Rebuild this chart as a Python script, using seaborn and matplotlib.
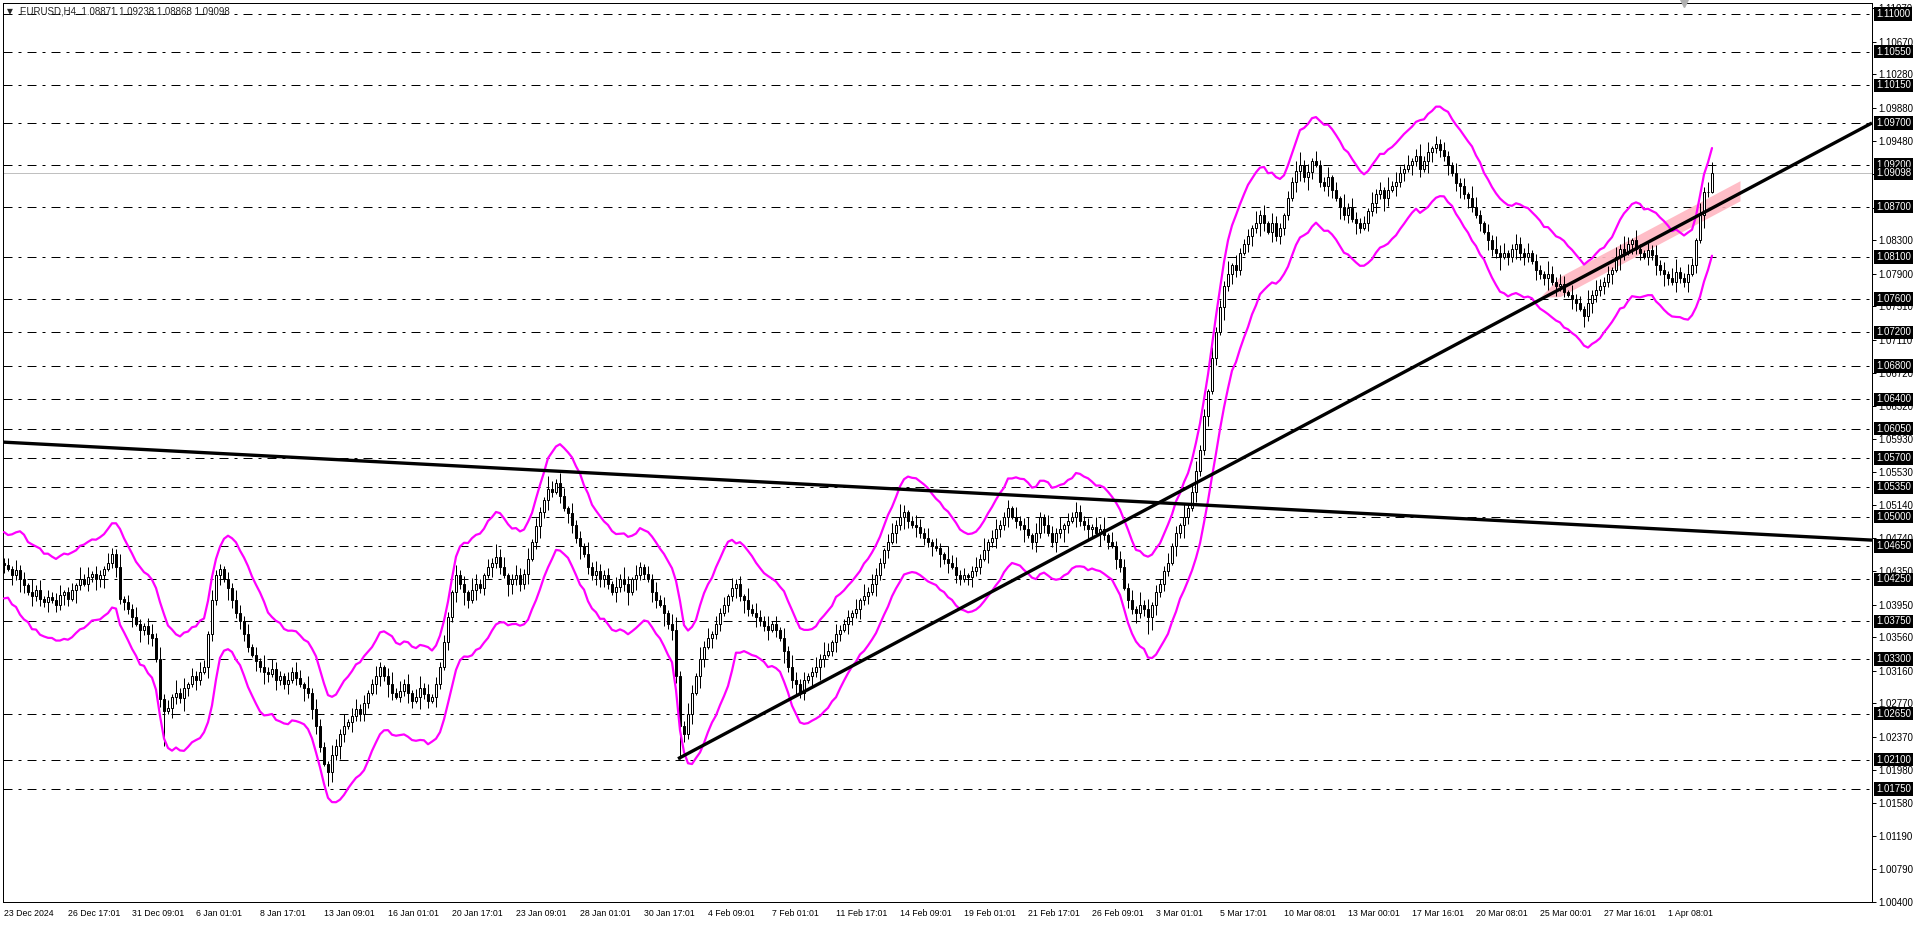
import numpy as np
import pandas as pd
import matplotlib
matplotlib.use("Agg")
import matplotlib.pyplot as plt
import matplotlib.transforms as mtransforms
import seaborn as sns

# H4 closes, in pips above 1.0000
closes = [
    442, 438, 430, 436, 425, 418, 410, 405, 412, 402,
    398, 404, 400, 395, 406, 410, 402, 412, 418, 425,
    420, 428, 432, 425, 430, 438, 445, 455, 440, 402,
    398, 390, 380, 372, 365, 370, 360, 355, 330, 282,
    268, 272, 285, 290, 283, 295, 300, 310, 305, 315,
    320, 360, 400, 430, 438, 425, 415, 400, 385, 375,
    360, 345, 335, 328, 320, 315, 312, 318, 305, 310,
    300, 305, 315, 308, 300, 295, 290, 270, 250, 225,
    205, 195, 215, 226, 240, 250, 255, 262, 270, 265,
    278, 290, 300, 310, 320, 310, 300, 290, 285, 292,
    300, 290, 280, 285, 295, 288, 280, 285, 300, 320,
    350, 380, 410, 430, 420, 410, 400, 412, 420, 415,
    430, 440, 445, 452, 440, 430, 420, 425, 430, 420,
    432, 450, 470, 489, 505, 520, 533, 530, 540, 525,
    510, 504, 490, 474, 465, 455, 440, 430, 435, 425,
    430, 420, 410, 416, 425, 420, 410, 425, 430, 440,
    432, 425, 410, 400, 395, 385, 372, 365, 310, 250,
    240, 265, 290, 310, 330, 345, 355, 360, 372, 385,
    395, 405, 415, 420, 405, 400, 390, 385, 380, 375,
    370, 365, 372, 365, 355, 340, 320, 305, 300, 290,
    305, 310, 315, 320, 330, 335, 340, 350, 360, 365,
    372, 380, 385, 390, 400, 405, 410, 420, 430, 445,
    460, 470, 480, 490, 500, 505, 495, 490, 488, 480,
    475, 470, 465, 462, 455, 450, 445, 440, 430, 425,
    430, 428, 435, 440, 450, 460, 470, 475, 485, 490,
    500, 510, 500, 495, 490, 485, 478, 470, 480, 500,
    490, 480, 470, 480, 485, 490, 495, 500, 505, 495,
    490, 485, 488, 480, 485, 478, 470, 465, 450, 440,
    415, 400, 390, 385, 395, 390, 380, 395, 410, 420,
    435, 445, 465, 480, 490, 500, 510, 530, 555, 580,
    620, 650, 690, 720, 750, 775, 790, 800, 795, 815,
    825, 835, 845, 850, 860, 850, 840, 850, 835, 845,
    860, 880, 900, 913, 920, 905, 912, 925, 920, 900,
    895, 905, 890, 880, 870, 860, 868, 855, 850, 845,
    850, 865, 875, 885, 890, 880, 890, 895, 900, 910,
    915, 920, 925, 930, 915, 925, 935, 940, 945, 938,
    930, 920, 910, 898, 895, 885, 880, 870, 860, 850,
    840, 830, 820, 815, 810, 815, 810, 820, 825, 815,
    810, 815, 805, 795, 790, 785, 790, 780, 775, 778,
    768, 765, 760, 755, 748, 740, 755, 765, 770, 775,
    780, 790, 795, 810, 820, 815, 825, 830, 820, 815,
    810, 818, 812, 800, 795, 790, 785, 780, 792, 785,
    780, 790, 800, 830, 860, 888, 887.1, 909.8,
]
firstOpen = 445

# wick lengths, one digit per bar, 3 pips per unit
upWick = ("2314231524 1323412315 2413214325 1324213425 2315241324 3142513243 2413152432 "
          "1324315243 2143251342 3124213524 2413524132 3214231542 1325341243 2413215324 "
          "3142315243 2314253142 1324231452 2431524132 3142315243 2413142532 3124253142 "
          "2314152432 1342531243 2413215342 3124251342 2314235142 1432513243 2314251423 "
          "3241524132 2413152342 3142325142 2315241432 1324523142 2413152432 3142315243 "
          "2413524132 3214231542 1325341243 2413215324 3142315243 2314253142 1324231452 "
          "2431524132")
dnWick = ("3142531423 2413243152 1324351242 3241524313 2143253142 1432415323 3214253142 "
          "2413152432 1342531423 3214425312 2431523142 1324253142 3142315423 2413524213 "
          "1432513243 3214235142 2143152432 3241531423 1324253142 2413152342 3142531243 "
          "1432423152 2314253142 3241524132 1342315243 2413251342 3124253142 2431523142 "
          "1324231542 3214253142 2413152432 1342531423 3214425312 2431523142 1324253142 "
          "3142315423 2413524213 1432513243 3214235142 2143152432 3241531423 1324253142 "
          "2413152342")
highFix = {27: 462, 54: 444, 138: 545, 251: 520, 358: 955, 427: 923.8}
lowFix = {40: 226, 81: 178, 169: 211, 286: 360, 395: 727, 427: 886.8}

dateLabels = ["23 Dec 2024", "26 Dec 17:01", "31 Dec 09:01", "6 Jan 01:01", "8 Jan 17:01",
              "13 Jan 09:01", "16 Jan 01:01", "20 Jan 17:01", "23 Jan 09:01", "28 Jan 01:01",
              "30 Jan 17:01", "4 Feb 09:01", "7 Feb 01:01", "11 Feb 17:01", "14 Feb 09:01",
              "19 Feb 01:01", "21 Feb 17:01", "26 Feb 09:01", "3 Mar 01:01", "5 Mar 17:01",
              "10 Mar 08:01", "13 Mar 00:01", "17 Mar 16:01", "20 Mar 08:01", "25 Mar 00:01",
              "27 Mar 16:01", "1 Apr 08:01"]
barsPerLabel = 16

levelPrices = [1.11000, 1.10550, 1.10150, 1.09700, 1.09200, 1.08700, 1.08100, 1.07600,
               1.07200, 1.06800, 1.06400, 1.06050, 1.05700, 1.05350, 1.05000, 1.04650,
               1.04250, 1.03750, 1.03300, 1.02650, 1.02100, 1.01750]
scaleTicks = [1.11070, 1.10670, 1.10280, 1.09880, 1.09480, 1.09090, 1.08690, 1.08300,
              1.07900, 1.07510, 1.07110, 1.06720, 1.06320, 1.05930, 1.05530, 1.05140,
              1.04740, 1.04350, 1.03950, 1.03560, 1.03160, 1.02770, 1.02370, 1.01980,
              1.01580, 1.01190, 1.00790, 1.00400]
lastPrice = 1.09098
header = "EURUSD,H4  1.08871 1.09238 1.08868 1.09098"

# trend lines: (bar, price) anchors
fallLine = [(-0.25, 1.0589), (467.0, 1.0472)]
riseLine = [(168.5, 1.0211), (467.0, 1.0970)]
pinkBars = (384, 434)
pinkHalf = 0.0012

# channel settings
emaSpan = 5
atrBars = 14
atrMult = 2.2


def buildCandles():
    n = len(closes)
    c = np.array(closes, dtype=float) / 10000 + 1
    o = np.r_[firstOpen / 10000 + 1, c[:-1]]
    up = np.array([int(ch) for ch in upWick.replace(" ", "")[:n]]) * 0.0003
    dn = np.array([int(ch) for ch in dnWick.replace(" ", "")[:n]]) * 0.0003
    h = np.maximum(o, c) + up
    l = np.minimum(o, c) - dn
    for k, v in highFix.items():
        h[k] = max(v / 10000 + 1, max(o[k], c[k]))
    for k, v in lowFix.items():
        l[k] = min(v / 10000 + 1, min(o[k], c[k]))
    df = pd.DataFrame({"bar": np.arange(n), "open": o, "high": h, "low": l, "close": c})
    prev = df["close"].shift(1).fillna(df["open"])
    tr = pd.concat([df["high"] - df["low"], (df["high"] - prev).abs(),
                    (df["low"] - prev).abs()], axis=1).max(axis=1)
    atr = tr.rolling(atrBars, min_periods=1).mean()
    mid = df["close"].ewm(span=emaSpan, adjust=False).mean()
    df["upper"] = mid + atrMult * atr
    df["lower"] = mid - atrMult * atr
    return df


def lineAt(line, x):
    (x0, y0), (x1, y1) = line
    return y0 + (np.asarray(x) - x0) * (y1 - y0) / (x1 - x0)


def main():
    df = buildCandles()
    sns.set_style("white")
    plt.rcParams["font.family"] = ["Liberation Sans", "DejaVu Sans"]

    W, H = 1920, 927
    fig = plt.figure(figsize=(W / 100, H / 100), dpi=100)
    left, right, top, bottom = 3, 1872, 3, 902
    ax = fig.add_axes([left / W, 1 - bottom / H, (right - left) / W, (bottom - top) / H])
    ax.set_xlim(-0.25, 467)
    ax.set_ylim(1.00400, 1.11132)

    px = 0.72
    for p in levelPrices:
        ax.axhline(p, color="black", lw=px, linestyle=(0, (9, 6, 3, 6)), zorder=1)
    ax.axhline(lastPrice, color="#c0c0c0", lw=px, zorder=1)

    # pink zone along the rising line
    xs = np.linspace(pinkBars[0], pinkBars[1], 60)
    ramp = np.clip((xs - pinkBars[0]) / 5.0, 0, 1)
    centre = lineAt(riseLine, xs) + 0.0003
    ax.fill_between(xs, centre - pinkHalf * ramp, centre + pinkHalf * ramp,
                    color="#ffb6c1", alpha=0.9, lw=0, zorder=1.5)

    # candles
    ax.vlines(df["bar"], df["low"], df["high"], color="black", lw=px, zorder=3)
    bull = df[df["close"] >= df["open"]]
    bear = df[df["close"] < df["open"]]
    ax.bar(bull["bar"], bull["close"] - bull["open"], bottom=bull["open"], width=0.7,
           color="white", edgecolor="black", linewidth=px, zorder=4)
    ax.bar(bear["bar"], bear["close"] - bear["open"], bottom=bear["open"], width=0.7,
           color="black", edgecolor="black", linewidth=px, zorder=4)

    # channel
    sns.lineplot(x=df["bar"], y=df["upper"], color="#ff00ff", lw=1.6, ax=ax, zorder=5)
    sns.lineplot(x=df["bar"], y=df["lower"], color="#ff00ff", lw=1.6, ax=ax, zorder=5)

    # trend lines
    for line in (fallLine, riseLine):
        xx = np.array([line[0][0], line[1][0]])
        ax.plot(xx, lineAt(line, xx), color="black", lw=2.4, solid_capstyle="butt", zorder=6)

    ax.set_xlabel("")
    ax.set_ylabel("")
    for s in ax.spines.values():
        s.set_color("black")
        s.set_linewidth(px)

    ax.yaxis.tick_right()
    ax.set_yticks(scaleTicks)
    ax.set_yticklabels([f"{t:.5f}" for t in scaleTicks])
    ax.tick_params(axis="y", direction="out", length=3, width=px, pad=1.5,
                   labelsize=7, colors="black")
    ax.set_xticks(np.arange(len(dateLabels)) * barsPerLabel)
    ax.set_xticklabels(dateLabels, ha="left")
    ax.tick_params(axis="x", direction="out", length=3, width=px, pad=2,
                   labelsize=6.3, colors="black")

    tr = mtransforms.blended_transform_factory(ax.transAxes, ax.transData)
    bx = (1876 - left) / (right - left)
    for p in levelPrices + [lastPrice]:
        ax.text(bx, p, f"{p:.5f}", transform=tr, color="white", fontsize=7,
                ha="left", va="center", clip_on=False, zorder=10,
                bbox=dict(facecolor="black", edgecolor="none", pad=1.2))

    fig.text(7 / W, 1 - 12 / H, "\u25bc", fontsize=5.5, va="center", ha="left",
             family=["DejaVu Sans"])
    fig.text(20 / W, 1 - 12 / H, header, fontsize=7, va="center", ha="left")
    ax.plot([420], [1.11132], marker="v", color="#b0b0b0", ms=6, clip_on=False, zorder=7)

    fig.savefig("out.png", dpi=100, facecolor="white")


if __name__ == '__main__':
    main()
